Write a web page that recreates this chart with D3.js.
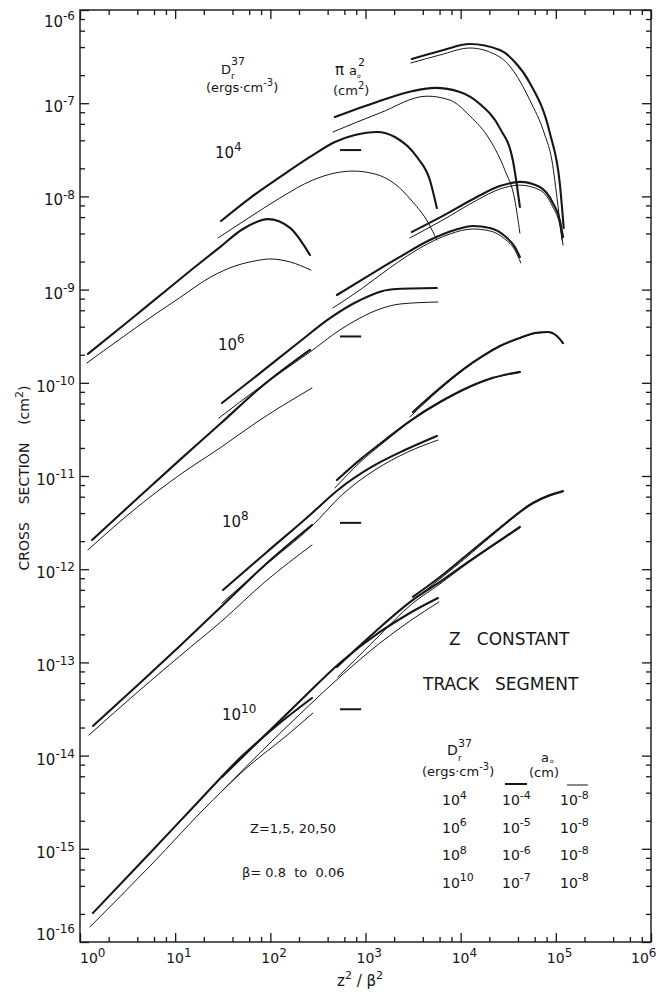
<!DOCTYPE html>
<html>
<head>
<meta charset="utf-8">
<script src="https://cdn.jsdelivr.net/npm/d3@7"></script>
<style>
  html, body { margin: 0; padding: 0; background: #fff; }
  svg { display: block; }
  text { font-family: "DejaVu Sans", "Liberation Sans", sans-serif; fill: #161616; white-space: pre; }
</style>
</head>
<body>
<svg id="chart" width="664" height="993"></svg>
<script>
// ---- Values ---------------------------------------------------------------
const zValues = [1, 5, 20, 50];
const doseExponents = [4, 6, 8, 10];          // D_r^37 in ergs·cm^-3
const a0LargeExponents = [-4, -5, -6, -7];    // a0 (cm), heavy curves
const a0SmallExponent = -8;                   // a0 (cm), light curves
const xTickExponents = [0, 1, 2, 3, 4, 5, 6];
const yTickExponents = [-16, -15, -14, -13, -12, -11, -10, -9, -8, -7, -6];
const minorMantissas = [2, 4, 6, 8];
const piA0Span = [540, 900];                  // z²/β² extent of the πa0² markers

// Cross section (cm²) against z²/β²; one polyline per Z = 1, 5, 20, 50.
const d4Large = [
  [[1.21,2.04e-10],[3.35,4.72e-10],[7.45,9.2e-10],[18.2,1.93e-9],[29.6,2.86e-9],[51.5,4.47e-9],[94.4,5.7e-9],[161,4.6e-9],[261,2.35e-9]],
  [[30.3,5.44e-9],[61.1,9.6e-9],[126,1.61e-8],[261,2.65e-8],[477,3.84e-8],[774,4.56e-8],[1318,4.91e-8],[2037,4.34e-8],[3466,2.65e-8],[4745,1.5e-8],[5620,7.5e-9]],
  [[477,7.1e-8],[1318,1.03e-7],[3147,1.35e-7],[5355,1.46e-7],[9810,1.32e-7],[15900,9.8e-8],[25800,5.4e-8],[35300,2.46e-8],[41900,7.7e-9]],
  [[3071,2.98e-7],[6051,3.63e-7],[12500,4.32e-7],[25800,3.72e-7],[37100,2.77e-7],[53300,1.65e-7],[86500,4.79e-8],[110000,1.39e-8],[121000,4.6e-9]]
];
const d4Small = [
  [[1.18,1.63e-10],[2.63,2.95e-10],[5.44,4.98e-10],[11.2,8.2e-10],[23.2,1.35e-9],[42.5,1.79e-9],[68.9,2.03e-9],[99.1,2.13e-9],[161,1.98e-9],[267,1.62e-9]],
  [[28.2,3.58e-9],[61.1,6.0e-9],[126,9.6e-9],[280,1.5e-8],[477,1.78e-8],[738,1.87e-8],[1256,1.74e-8],[2037,1.36e-8],[3147,8.7e-9],[4520,5.3e-9],[5620,3.4e-9]],
  [[455,4.91e-8],[1416,7.85e-8],[4414,1.19e-7],[7706,1.08e-7],[12500,7.3e-8],[20300,4.03e-8],[29100,1.92e-8],[37100,9.1e-9],[41900,4.05e-9]],
  [[2999,2.7e-7],[6051,3.29e-7],[12500,3.91e-7],[25800,3.13e-7],[37100,2.11e-7],[53300,1.08e-7],[76600,4.56e-8],[90800,2.46e-8],[105000,8.1e-9],[116000,3.4e-9]]
];
const d6Large = [
  [[1.34,2.06e-12],[4.27,6.1e-12],[11.2,1.49e-11],[29.6,3.61e-11],[77.8,8.8e-11],[261,2.25e-10]],
  [[31.0,6.07e-11],[77.8,1.27e-10],[195,2.67e-10],[423,4.95e-10],[873,7.7e-10],[1941,1.01e-9],[5620,1.04e-9]],
  [[501,8.75e-10],[1112,1.44e-9],[2297,2.24e-9],[4745,3.4e-9],[8690,4.35e-9],[13400,4.81e-9],[20300,4.58e-9],[29100,3.76e-9],[37100,2.86e-9],[41900,2.24e-9]],
  [[3071,4.15e-9],[6505,6.17e-9],[14800,9.86e-9],[25800,1.29e-8],[41900,1.43e-8],[67900,1.26e-8],[93000,8.5e-9],[110000,5.6e-9],[119000,3.66e-9]]
];
const d6Small = [
  [[1.21,1.61e-12],[4.27,4.89e-12],[11.2,1.03e-11],[29.6,2.0e-11],[77.8,3.99e-11],[274,8.8e-11]],
  [[28.8,4.19e-11],[77.8,9.0e-11],[261,2.14e-10],[538,3.69e-10],[873,4.95e-10],[1416,6.19e-10],[2297,7.0e-10],[5764,7.36e-10]],
  [[455,6.36e-10],[873,9.9e-10],[1803,1.71e-9],[3726,2.79e-9],[7706,3.95e-9],[13400,4.47e-9],[20300,4.26e-9],[29100,3.49e-9],[37100,2.66e-9],[42900,1.93e-9]],
  [[2925,3.58e-9],[6505,5.59e-9],[14800,9.1e-9],[25800,1.2e-8],[41900,1.32e-8],[67900,1.17e-8],[93000,7.7e-9],[110000,4.93e-9],[119000,3.01e-9]]
];
const d8Large = [
  [[1.37,2.08e-14],[4.27,6.0e-14],[11.2,1.5e-13],[31.8,4.13e-13],[87.7,1.11e-12],[274,2.98e-12]],
  [[31.8,5.98e-13],[92.1,1.53e-12],[261,3.82e-12],[513,7.08e-12],[1112,1.22e-11],[2592,1.9e-11],[5620,2.69e-11]],
  [[501,9.06e-12],[873,1.49e-11],[1600,2.43e-11],[2925,3.89e-11],[6051,6.22e-11],[11600,8.8e-11],[21800,1.13e-10],[41900,1.31e-10]],
  [[3147,4.86e-11],[6051,8.79e-11],[11070,1.44e-10],[17100,1.94e-10],[25800,2.48e-10],[41900,3.03e-10],[60200,3.42e-10],[82400,3.51e-10],[102600,3.18e-10],[119000,2.67e-10]]
];
const d8Small = [
  [[1.24,1.66e-14],[4.27,5.06e-14],[11.2,1.17e-13],[31.8,2.85e-13],[87.7,7.3e-13],[274,1.82e-12]],
  [[31.0,4.33e-13],[92.1,1.14e-12],[274,2.91e-12],[579,6.41e-12],[1256,1.16e-11],[2788,1.81e-11],[5764,2.43e-11]],
  [[477,7.43e-12],[873,1.4e-11],[1600,2.35e-11],[2925,3.82e-11],[6051,6.1e-11],[11600,8.65e-11],[21800,1.12e-10],[41900,1.29e-10]],
  [[2925,4.3e-11],[6051,8.5e-11],[11070,1.41e-10],[17100,1.91e-10],[25800,2.45e-10],[41900,3.0e-10],[60200,3.38e-10],[82400,3.47e-10],[102600,3.14e-10],[119000,2.63e-10]]
];
const d10Large = [
  [[1.37,2.05e-16],[5.44,9.0e-16],[18.2,3.34e-15],[47.9,9.4e-15],[112,2.03e-14],[274,4.15e-14]],
  [[31.0,5.89e-15],[77.8,1.47e-14],[205,3.85e-14],[538,9.86e-14],[1416,2.12e-13],[2925,3.39e-13],[5764,4.91e-13]],
  [[501,8.93e-14],[1256,2.12e-13],[3147,4.68e-13],[6051,7.3e-13],[11600,1.17e-12],[20300,1.73e-12],[29100,2.21e-12],[41900,2.84e-12]],
  [[3147,5.04e-13],[6051,8.24e-13],[11600,1.42e-12],[25800,2.77e-12],[57300,5.13e-12],[86500,6.25e-12],[119000,6.9e-12]]
];
const d10Small = [
  [[1.27,1.45e-16],[5.44,6.53e-16],[24.9,3.34e-15],[61.1,7.92e-15],[142,1.58e-14],[280,2.86e-14]],
  [[31.0,4.17e-15],[77.8,1.07e-14],[205,2.79e-14],[538,6.97e-14],[1416,1.61e-13],[2925,2.78e-13],[5905,4.45e-13]],
  [[513,6.97e-14],[1256,1.74e-13],[3147,4.33e-13],[6051,6.94e-13],[11600,1.14e-12],[20300,1.69e-12],[29100,2.16e-12],[41900,2.77e-12]],
  [[2999,4.45e-13],[6051,7.85e-13],[11600,1.35e-12],[25800,2.7e-12],[57300,5.01e-12],[86500,6.1e-12],[119000,6.73e-12]]
];

// ---- Scales ---------------------------------------------------------------
const svg = d3.select("#chart");
const x = d3.scaleLog().domain([1, 1e6]).range([80, 651]);
const y = d3.scaleLog().domain([1e-16, 1e-6]).range([942, 10]);
const ink = "#161616";

// Text with raised / lowered runs: parts = [[string, "n"|"sup"|"sub"], ...]
function rich(g, px, py, parts, size, anchor, smallSize) {
  const small = smallSize || Math.round(size * 0.78);
  const t = g.append("text").attr("x", px).attr("y", py)
    .attr("font-size", size).attr("text-anchor", anchor || "start");
  let shift = 0;
  parts.forEach(([s, kind]) => {
    const target = kind === "sup" ? -size * 0.45 : kind === "sub" ? size * 0.3 : 0;
    t.append("tspan").attr("dy", target - shift)
      .attr("font-size", kind === "n" ? size : small).text(s);
    shift = target;
  });
  return t;
}
const exp = e => String(e);

// ---- Frame and ticks ------------------------------------------------------
const x0 = x(1), x1 = x(1e6), yTop = y(1e-6), yBot = y(1e-16);
svg.append("rect").attr("x", x0).attr("y", yTop)
  .attr("width", x1 - x0).attr("height", yBot - yTop)
  .attr("fill", "none").attr("stroke", ink).attr("stroke-width", 1.4);

const majorX = xTickExponents.map(e => Math.pow(10, e));
const minorX = xTickExponents.slice(0, -1).flatMap(e => minorMantissas.map(m => m * Math.pow(10, e)));
const majorY = yTickExponents.map(e => Math.pow(10, e));
const minorY = yTickExponents.slice(0, -1).flatMap(e => minorMantissas.map(m => m * Math.pow(10, e)));

function ticks(axis, values, size, transform) {
  const g = svg.append("g").attr("transform", transform)
    .call(axis.tickValues(values).tickSize(-size).tickSizeOuter(0).tickFormat(""));
  g.select(".domain").remove();
  g.selectAll("line").attr("stroke", ink).attr("stroke-width", 1.3);
}
[[majorX, 9], [minorX, 5]].forEach(([v, s]) => {
  ticks(d3.axisBottom(x), v, s, `translate(0,${yBot})`);
  ticks(d3.axisTop(x), v, s, `translate(0,${yTop})`);
});
[[majorY, 9], [minorY, 5]].forEach(([v, s]) => {
  ticks(d3.axisLeft(y), v, s, `translate(${x0},0)`);
  ticks(d3.axisRight(y), v, s, `translate(${x1},0)`);
});

// Tick labels
const labels = svg.append("g");
yTickExponents.forEach((e, i) => {
  const nudge = i === 0 ? -2 : i === yTickExponents.length - 1 ? 17 : 9;
  rich(labels, x0 - 5, y(Math.pow(10, e)) + nudge, [["10", "n"], [exp(e), "sup"]], 15, "end", 12);
});
xTickExponents.forEach((e, i) => {
  const shift = i === 0 ? 0 : i === xTickExponents.length - 1 ? -20 : -9;
  rich(labels, x(Math.pow(10, e)) + shift, yBot + 21, [["10", "n"], [exp(e), "sup"]], 14, "start", 12);
});

// Axis titles
svg.append("text").attr("transform", `translate(29,${(yTop + yBot) / 2 + 2}) rotate(-90)`)
  .attr("text-anchor", "middle").attr("font-size", 14)
  .call(t => {
    t.append("tspan").text("CROSS    SECTION    (cm");
    t.append("tspan").attr("dy", -6).attr("font-size", 11).text("2");
    t.append("tspan").attr("dy", 6).text(")");
  });
rich(svg, 337, 986, [["z", "n"], ["2", "sup"], [" / ", "n"], ["β", "n"], ["2", "sup"]], 15, "start", 11);

// ---- Curves ---------------------------------------------------------------
const curve = d3.line().x(d => x(d[0])).y(d => y(d[1])).curve(d3.curveMonotoneX);
const groups = [
  [d4Small, d4Large], [d6Small, d6Large], [d8Small, d8Large], [d10Small, d10Large]
];
const plot = svg.append("g").attr("fill", "none").attr("stroke", ink)
  .attr("stroke-linecap", "round").attr("stroke-linejoin", "round");
groups.forEach(([small, large]) => {
  small.forEach(pts => plot.append("path").attr("d", curve(pts)).attr("stroke-width", 1.0));
  large.forEach(pts => plot.append("path").attr("d", curve(pts)).attr("stroke-width", 2.1));
});

// πa0² markers for the heavy-curve radii
plot.selectAll("line.pia0").data(a0LargeExponents).join("line")
  .attr("class", "pia0")
  .attr("x1", x(piA0Span[0])).attr("x2", x(piA0Span[1]))
  .attr("y1", e => y(Math.PI * Math.pow(10, 2 * e)))
  .attr("y2", e => y(Math.PI * Math.pow(10, 2 * e)))
  .attr("stroke-width", 2).attr("stroke-linecap", "butt");

// ---- Annotations ----------------------------------------------------------
const ann = svg.append("g");
// column headings at the top
ann.append("text").attr("x", 221).attr("y", 74).attr("font-size", 13).text("D");
ann.append("text").attr("x", 231).attr("y", 79).attr("font-size", 9).text("r");
ann.append("text").attr("x", 231).attr("y", 65).attr("font-size", 11).text("37");
rich(ann, 206, 92, [["(ergs·cm", "n"], ["-3", "sup"], [")", "n"]], 13, "start", 10);
ann.append("text").attr("x", 335).attr("y", 75).attr("font-size", 15).text("π");
ann.append("text").attr("x", 349).attr("y", 75).attr("font-size", 13).text("a");
ann.append("text").attr("x", 357).attr("y", 78).attr("font-size", 6).text("o");
ann.append("text").attr("x", 358).attr("y", 66).attr("font-size", 11).text("2");
rich(ann, 333, 95, [["(cm", "n"], ["2", "sup"], [")", "n"]], 13, "start", 10);

// dose labels beside each family
const doseLabelPos = [[215, 158], [218, 350], [222, 527], [222, 720]];
doseExponents.forEach((e, i) => {
  rich(ann, doseLabelPos[i][0], doseLabelPos[i][1], [["10", "n"], [exp(e), "sup"]], 15, "start", 12);
});

rich(ann, 449, 645, [["Z", "n"], ["   CONSTANT", "n"]], 17);
rich(ann, 423, 690, [["TRACK", "n"], ["   SEGMENT", "n"]], 17);
ann.append("text").attr("x", 250).attr("y", 833).attr("font-size", 13).text("Z=1,5, 20,50");
ann.append("text").attr("x", 242).attr("y", 877).attr("font-size", 13).text("β= 0.8  to  0.06");

// key table
ann.append("text").attr("x", 447).attr("y", 755).attr("font-size", 14).text("D");
ann.append("text").attr("x", 458).attr("y", 761).attr("font-size", 9).text("r");
ann.append("text").attr("x", 458).attr("y", 747).attr("font-size", 11).text("37");
rich(ann, 422, 776, [["(ergs·cm", "n"], ["-3", "sup"], [")", "n"]], 13, "start", 10);
ann.append("text").attr("x", 541).attr("y", 762).attr("font-size", 13).text("a");
ann.append("text").attr("x", 550).attr("y", 763).attr("font-size", 6).text("o");
ann.append("text").attr("x", 529).attr("y", 777).attr("font-size", 13).text("(cm)");
ann.append("line").attr("x1", 505).attr("x2", 527).attr("y1", 784).attr("y2", 784)
  .attr("stroke", ink).attr("stroke-width", 2);
ann.append("line").attr("x1", 567).attr("x2", 588).attr("y1", 785).attr("y2", 785)
  .attr("stroke", ink).attr("stroke-width", 1);
doseExponents.forEach((e, i) => {
  const by = 805 + i * 27.5;
  rich(ann, 442, by, [["10", "n"], [exp(e), "sup"]], 14, "start", 11);
  rich(ann, 502, by, [["10", "n"], [exp(a0LargeExponents[i]), "sup"]], 14, "start", 11);
  rich(ann, 560, by, [["10", "n"], [exp(a0SmallExponent), "sup"]], 14, "start", 11);
});
</script>
</body>
</html>
